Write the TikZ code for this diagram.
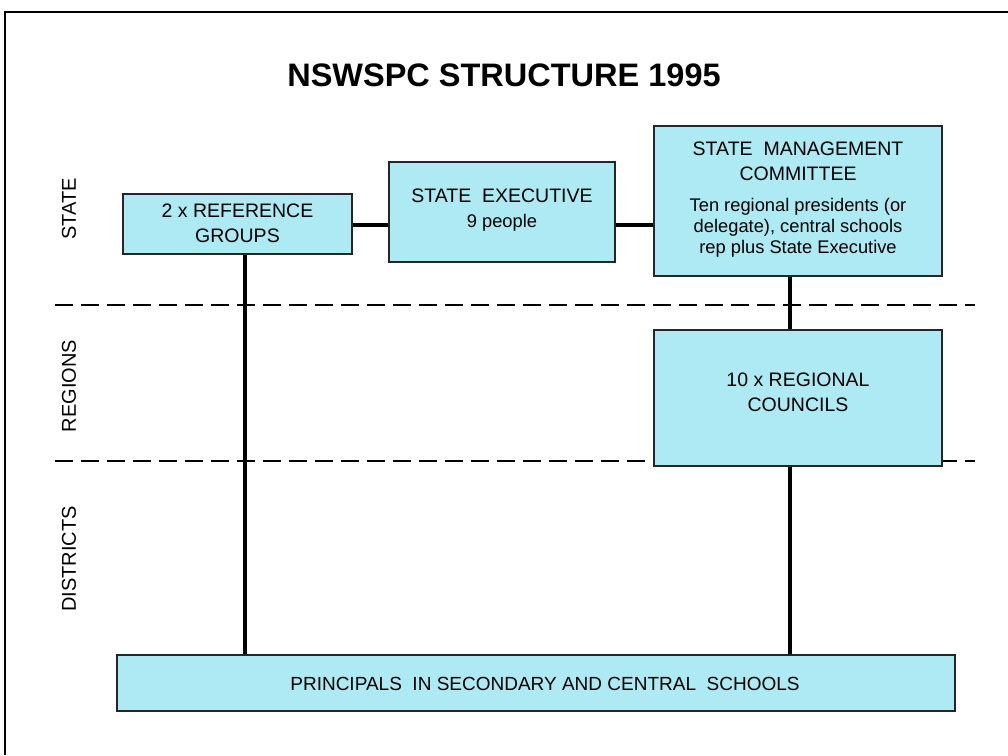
\documentclass[tikz,border=0pt]{standalone}
\usepackage{fontspec}
\setmainfont{Liberation Sans}
\definecolor{boxfill}{HTML}{ADEAF3}
\definecolor{boxline}{HTML}{262626}
\begin{document}
\begin{tikzpicture}[x=1pt,y=-1pt,
  box/.style={draw=boxline,line width=1.4pt,fill=boxfill,inner sep=0pt,
    align=center,font=\fontsize{19.5}{24}\selectfont},
  boxtext/.style={inner sep=0pt,align=center,font=\fontsize{19.5}{25}\selectfont},
  link/.style={line width=3.4pt,black},
  band/.style={line width=1.5pt,black,dash pattern=on 18pt off 8pt},
  side/.style={rotate=90,font=\fontsize{20}{24}\selectfont}]
\newcommand\smalltext{\fontsize{18.3}{21}\selectfont}
\useasboundingbox (0,0) rectangle (1008,755);
% open frame: top and left edges
\draw[line width=2.2pt] (5,755) -- (5,12) -- (1008,12);

% title
\node (title) at (504,75) {\fontsize{32.5}{38}\selectfont\bfseries NSWSPC STRUCTURE 1995};

% level separators (behind the boxes)
\coordinate (s1a) at (55,305);
\coordinate (s1b) at (975,305);
\coordinate (s2a) at (55,461);
\coordinate (s2b) at (975,461);
\draw[band] (s1a) -- (s1b);
\draw[band] (s2a) -- (s2b);

% organisation boxes
\node[box,minimum width=229pt,minimum height=60pt] (refg) at (237.5,224) {};
\node[box,minimum width=226pt,minimum height=100pt] (exec) at (502,212) {};
\node[box,minimum width=288pt,minimum height=150pt] (smc) at (798,201) {};
\node[box,minimum width=288pt,minimum height=136pt] (rc) at (798,398) {};
\node[box,minimum width=838pt,minimum height=56pt] (prin) at (536,683) {};

% box texts
\node[boxtext] (refgtext) at (237.5,223.5) {2 x REFERENCE\\GROUPS};
\node[boxtext] (exectitle) at (502,196) {STATE\ \ EXECUTIVE};
\node[boxtext,font=\smalltext] (execnote) at (502,223) {9 people};
\node[boxtext] (smctitle) at (798,161.5) {STATE\ \ MANAGEMENT\\COMMITTEE};
\node[boxtext,font=\smalltext] (smcnote) at (798,228)
  {Ten\ regional presidents (or\\delegate), central schools\\rep plus State Executive};
\node[boxtext] (rctext) at (798,392.5) {10 x REGIONAL\\COUNCILS};
\node[boxtext,font=\fontsize{19}{24}\selectfont] (printext) at (545,684)
  {PRINCIPALS\ \ IN\ SECONDARY\ AND\ CENTRAL\ \ SCHOOLS};

% level labels
\node[side] (lstate) at (69,209) {STATE};
\node[side] (lreg) at (69,386) {REGIONS};
\node[side] (ldist) at (69,559) {DISTRICTS};

% connectors
\coordinate (hy) at (0,225);
\coordinate (xa) at (245,0);
\coordinate (xb) at (790,0);
\draw[link] (refg.east |- hy) -- (exec.west |- hy);
\draw[link] (exec.east |- hy) -- (smc.west |- hy);
\draw[link] (refg.south -| xa) -- (prin.north -| xa);
\draw[link] (smc.south -| xb) -- (rc.north -| xb);
\draw[link] (rc.south -| xb) -- (prin.north -| xb);
\end{tikzpicture}
\end{document}
